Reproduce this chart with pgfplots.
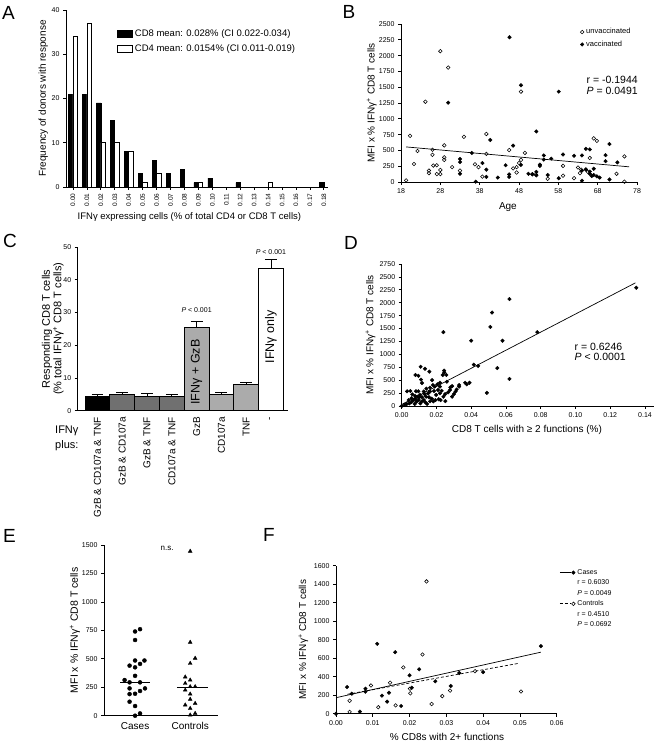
\documentclass[border=0pt]{standalone}
\usepackage{fontspec}
\setmainfont{Liberation Sans}
\usepackage{pgfplots}
\pgfplotsset{compat=1.18}

\pgfplotsset{
  gp/.style={
    scale only axis, clip=false, anchor=south west,
    axis lines*=left,
    axis line style={-, line width=0.8pt, black},
    x axis line style={-}, y axis line style={-},
    tick align=outside, major tick length=3pt,
    tick style={line width=0.7pt, black},
    tick label style={font=\fontsize{7}{8}\selectfont},
    label style={font=\fontsize{10}{11}\selectfont},
    /pgf/number format/assume math mode=true,
    /pgf/number format/1000 sep={},
  },
  ylab/.style={ylabel style={at={(axis description cs:#1,0.5)}, anchor=center}},
  twodec/.style={scaled x ticks=false,
    x tick label style={/pgf/number format/fixed, /pgf/number format/fixed zerofill, /pgf/number format/precision=2}},
}

\begin{document}
\begin{tikzpicture}
\path[use as bounding box] (0pt,0pt) rectangle (661pt,744pt);

% panel letters
\node[font=\fontsize{19}{19}\selectfont] at (8.5pt,731.5pt) {A};
\node[font=\fontsize{19}{19}\selectfont] at (349pt,732.5pt) {B};
\node[font=\fontsize{19}{19}\selectfont] at (10pt,503.5pt) {C};
\node[font=\fontsize{19}{19}\selectfont] at (351pt,501.5pt) {D};
\node[font=\fontsize{19}{19}\selectfont] at (9.5pt,208.5pt) {E};
\node[font=\fontsize{19}{19}\selectfont] at (269pt,209pt) {F};

% ---------- A: histogram
\begin{axis}[gp, at={(66pt,557pt)}, width=262pt, height=177pt,
  xmin=-0.5, xmax=18.3, ymin=0, ymax=40,
  ybar=0pt, bar width=4.4pt,
  xtick={0,...,18},
  xticklabels={0.00,0.01,0.02,0.03,0.04,0.05,0.06,0.07,0.08,0.09,0.10,0.11,0.12,0.13,0.14,0.15,0.16,0.17,0.18},
  x tick label style={rotate=90, anchor=east, font=\fontsize{6.5}{7}\selectfont},
  ytick={0,10,20,30,40},
  ylabel={Frequency of donors with response},
  xlabel={IFNγ expressing cells (\% of total CD4 or CD8 T cells)},
  ylab=-0.087,
  xlabel style={at={(axis description cs:0.471,-0.169)}, anchor=center, font=\fontsize{9.5}{11}\selectfont},
  legend style={at={(axis description cs:0.195,0.9)}, anchor=north west, draw=none, fill=none,
    font=\fontsize{9.5}{11}\selectfont, row sep=2pt, inner sep=0pt},
  legend cell align=left,
]
\addplot[fill=black, draw=black, line width=0.6pt,
  legend image code/.code={\draw[fill=black,draw=black] (0pt,-3.5pt) rectangle (15pt,3.5pt);}]
  coordinates {(0,21)(1,21)(2,19)(3,15)(4,8)(5,3)(6,6)(7,3)(8,4)(9,1)(10,2)(12,1)(18,1)};
\addlegendentry{CD8 mean: 0.028\% (CI 0.022-0.034)}
\addplot[fill=white, draw=black, line width=0.6pt,
  legend image code/.code={\draw[fill=white,draw=black,line width=0.6pt] (0pt,-3.5pt) rectangle (15pt,3.5pt);}]
  coordinates {(0,34)(1,37)(2,10)(3,10)(4,8)(5,1)(6,3)(9,1)(14,1)};
\addlegendentry{CD4 mean: 0.0154\% (CI 0.011-0.019)}
\end{axis}

% ---------- B: age scatter
\begin{axis}[gp, at={(401pt,562pt)}, width=236pt, height=158pt,
  xmin=18, xmax=78, ymin=0, ymax=2500,
  xtick={18,28,...,78}, ytick={0,250,...,2500},
  ylabel={MFI x \% IFNγ\textsuperscript{+} CD8 T cells}, xlabel={Age},
  ylab=-0.124,
  xlabel style={at={(axis description cs:0.453,-0.158)}, anchor=center},
  legend style={at={(axis description cs:0.758,0.985)}, anchor=north west, draw=none, fill=none,
    font=\fontsize{7.5}{8.5}\selectfont, row sep=1.5pt, inner sep=0pt},
  legend cell align=left,
]
\addplot[only marks, mark=o, mark size=1.8pt, mark options={line width=0.55pt},
  legend image code/.code={\draw[line width=0.55pt] (2pt,0pt) circle (1.8pt);}]
  coordinates {(19.3,25)(20.3,730)(21.3,285)(22.2,490)(24.2,1270)(26,510)(26,430)(25.1,180)(25.1,140)
  (26.2,260)(27.1,265)(27.1,125)(28,125)(28,190)(28,2070)(29,580)(29,390)(29,350)(30,1810)(31,235)
  (33,180)(34,715)(36.8,280)(37.7,235)(38.7,85)(39.7,760)(39.7,445)(45.5,505)(46.5,215)(47.4,235)
  (47.4,150)(48,300)(48.5,350)(48.5,1430)(49.5,460)(51.4,120)(52.3,120)(55.3,50)(59.2,255)(59.2,100)
  (62,60)(63,230)(63.8,195)(65,195)(66,380)(67,690)(67.8,650)(72.8,130)(74.8,405)(74.8,5)(65.5,160)(63.5,140)};
\addlegendentry{unvaccinated}
\addplot[only marks, mark=*, mark size=1.8pt,
  legend image code/.code={\fill (2pt,0pt) circle (1.8pt);}]
  coordinates {(45.6,2290)(48.5,1530)(58.1,1430)(30,1255)(52.4,800)(33,365)(33,315)(33,130)(36,460)
  (37,5)(38.7,300)(39.7,195)(39.7,80)(40.7,665)(42.6,70)(44.6,265)(45.5,120)(45.5,80)(46.5,575)
  (48.5,270)(50.4,130)(51.4,125)(52.4,160)(52.4,105)(53.3,255)(53.3,275)(54.3,420)(54.3,355)
  (55.3,110)(56.2,370)(58.1,60)(59.2,435)(62,415)(64,420)(64,20)(65,525)(66,515)(65,200)(66,130)
  (66,165)(67,110)(67.8,90)(68.5,70)(67,210)(70,425)(70,330)(71,600)(71,40)(73,310)(66.5,95)(64,180)};
\addlegendentry{vaccinated}
\addplot[line width=0.7pt, forget plot] coordinates {(19.3,555)(76,240)};
\node[anchor=west, align=left, font=\fontsize{10.5}{11}\selectfont] at (axis cs:64.3,1530)
  {r = -0.1944\\\textit{P} = 0.0491};
\end{axis}

% ---------- C: function bars
\begin{axis}[gp, at={(77.7pt,333.3pt)}, width=210.3pt, height=163.7pt,
  xmin=0.2, xmax=8.69, ymin=0, ymax=50,
  ytick={0,10,...,50}, xtick={1,...,8},
  xticklabels={GzB \& CD107a \& TNF, GzB \& CD107a, GzB \& TNF, CD107a \& TNF, GzB, CD107a, TNF, -},
  x tick label style={rotate=90, anchor=east, font=\fontsize{10}{11}\selectfont},
  major x tick style={draw=none},
  ylabel={Responding CD8 T cells\\(\% total IFNγ\textsuperscript{+} CD8 T cells)},
  ylabel style={at={(axis description cs:-0.118,0.5)}, anchor=center, align=center, font=\fontsize{11}{11.5}\selectfont},
]
\pgfplotsset{cbar/.style={ybar, bar width=24.8pt, bar shift=0pt, draw=black, line width=0.9pt}}
% error bars (upper whisker and cap)
\addplot[line width=0.8pt] coordinates {(1,4.5)(1,5.1)};
\addplot[line width=0.8pt] coordinates {(0.76,5.1)(1.24,5.1)};
\addplot[line width=0.8pt] coordinates {(2,4.9)(2,5.5)};
\addplot[line width=0.8pt] coordinates {(1.76,5.5)(2.24,5.5)};
\addplot[line width=0.8pt] coordinates {(3,4.5)(3,5.2)};
\addplot[line width=0.8pt] coordinates {(2.76,5.2)(3.24,5.2)};
\addplot[line width=0.8pt] coordinates {(4,4.5)(4,5.1)};
\addplot[line width=0.8pt] coordinates {(3.76,5.1)(4.24,5.1)};
\addplot[line width=0.8pt] coordinates {(5,25.3)(5,27.4)};
\addplot[line width=0.8pt] coordinates {(4.76,27.4)(5.24,27.4)};
\addplot[line width=0.8pt] coordinates {(6,4.9)(6,5.7)};
\addplot[line width=0.8pt] coordinates {(5.76,5.7)(6.24,5.7)};
\addplot[line width=0.8pt] coordinates {(7,8.0)(7,8.7)};
\addplot[line width=0.8pt] coordinates {(6.76,8.7)(7.24,8.7)};
\addplot[line width=0.8pt] coordinates {(8,43.6)(8,46.2)};
\addplot[line width=0.8pt] coordinates {(7.76,46.2)(8.24,46.2)};
% bars
\addplot[fill=black, cbar] coordinates {(1,4.5)};
\addplot[fill=black!56, cbar] coordinates {(2,4.9)};
\addplot[fill=black!56, cbar] coordinates {(3,4.5)};
\addplot[fill=black!56, cbar] coordinates {(4,4.5)};
\addplot[fill=black!33, cbar] coordinates {(5,25.3)};
\addplot[fill=black!33, cbar] coordinates {(6,4.9)};
\addplot[fill=black!33, cbar] coordinates {(7,8.0)};
\addplot[fill=white, cbar] coordinates {(8,43.6)};
\node[rotate=90, font=\fontsize{12.5}{13}\selectfont] at (axis cs:5,11.8) {IFNγ + GzB};
\node[rotate=90, font=\fontsize{12.5}{13}\selectfont] at (axis cs:8,22.5) {IFNγ only};
\node[font=\fontsize{7}{8}\selectfont] at (axis cs:5,30.6) {\textit{P} < 0.001};
\node[font=\fontsize{7}{8}\selectfont] at (axis cs:8,48.3) {\textit{P} < 0.001};
\end{axis}
\node[anchor=north west, align=left, inner sep=0pt, font=\fontsize{11}{15}\selectfont] at (55pt,318pt) {IFNγ\\plus:};

% ---------- D: polyfunctional vs MFI
\begin{axis}[gp, twodec, at={(401.7pt,338pt)}, width=252pt, height=142pt,
  xmin=0, xmax=0.145, ymin=0, ymax=2750,
  xtick={0,0.02,...,0.14}, ytick={0,250,...,2750},
  ylabel={MFI x \% IFNγ\textsuperscript{+} CD8 T cells},
  xlabel={CD8 T cells with ≥ 2 functions (\%)},
  ylab=-0.124,
  xlabel style={at={(axis description cs:0.497,-0.169)}, anchor=center},
]
\addplot[only marks, mark=*, mark size=1.8pt] coordinates {
  (0.135,2290)(0.062,2070)(0.052,1810)(0.051,1530)(0.024,1430)(0.040,1265)(0.058,1265)(0.078,1430)
  (0.0415,800)(0.044,775)(0.055,735)(0.062,525)(0.049,255)
  (0.0109,760)(0.0134,720)(0.0159,665)(0.0079,600)(0.0096,585)(0.0111,510)(0.0117,445)(0.0175,500)
  (0.0245,650)(0.0236,600)(0.0244,685)(0.0257,600)(0.026,470)(0.018,405)(0.019,375)(0.0205,420)
  (0.022,450)(0.022,375)(0.0163,355)(0.0142,335)(0.0127,280)(0.0096,285)(0.0082,285)(0.005,290)
  (0.0031,285)(0.0061,225)(0.0077,195)(0.009,180)(0.0105,215)(0.014,180)(0.0157,170)(0.0173,140)
  (0.0163,90)(0.0182,90)(0.0194,115)(0.0213,130)(0.0224,115)(0.024,180)(0.025,230)(0.0267,265)
  (0.0251,95)(0.0278,310)(0.028,360)(0.029,385)(0.031,280)(0.030,230)(0.029,180)(0.0316,320)
  (0.033,405)(0.033,375)(0.0365,450)(0.0374,420)(0.039,450)(0.004,115)(0.0044,50)(0.0056,75)
  (0.0067,110)(0.0075,40)(0.0086,85)(0.0098,115)(0.0107,50)(0.0117,90)(0.0127,115)(0.0136,70)
  (0.0146,40)(0.0079,140)(0.0029,40)(0.0017,20)(0,0)(0.0056,150)(0.0102,170)(0.0117,170)
  (0.0152,245)(0.0163,280)(0.0186,290)(0.0209,310)(0.0198,215)(0.022,245)(0.023,295)(0.0132,230)};
\addplot[line width=0.7pt] coordinates {(0,30)(0.1345,2385)};
\node[anchor=west, align=left, font=\fontsize{10.5}{10.5}\selectfont] at (axis cs:0.0975,1050)
  {r = 0.6246\\\textit{P} < 0.0001};
\end{axis}

% ---------- E: cases vs controls
\begin{axis}[gp, at={(104pt,28.3pt)}, width=114.3pt, height=170.7pt,
  xmin=0.436, xmax=2.51, ymin=0, ymax=1500,
  xtick={1,2}, xticklabels={Cases,Controls},
  x tick label style={font=\fontsize{10}{11}\selectfont},
  major x tick style={draw=none},
  ytick={0,250,...,1500},
  ylabel={MFI x \% IFNγ\textsuperscript{+} CD8 T cells},
  ylab=-0.254,
  ylabel style={font=\fontsize{10.5}{11}\selectfont},
]
\addplot[only marks, mark=*, mark size=2pt] coordinates {
  (1.09,760)(1,740)(1,665)(1,485)(1.17,485)(0.9,440)(1,425)(1.09,455)(1,350)(0.81,313)(0.9,293)
  (1.09,293)(0.9,240)(1.18,240)(1,193)(0.9,190)(1.09,217)(0.9,123)(1,85)(1,0)(1.09,20)};
\addplot[only marks, mark=triangle*, mark size=2.2pt] coordinates {
  (2,1445)(2,645)(2.09,505)(2,460)(1.91,340)(2,313)(1.91,284)(2.09,255)(2,255)(1.91,225)
  (2,190)(2,144)(2.09,108)(1.91,94)(2,64)(2,6)(2.09,20)};
\addplot[line width=0.7pt] coordinates {(0.73,290)(1.27,290)};
\addplot[line width=0.7pt] coordinates {(1.76,250)(2.33,250)};
\node[font=\fontsize{8}{9}\selectfont] at (axis cs:1.58,1470) {n.s.};
\end{axis}

% ---------- F: cases/controls regression
\begin{axis}[gp, twodec, at={(336pt,30.3pt)}, width=220.7pt, height=148pt,
  xmin=0, xmax=0.06, ymin=0, ymax=1600,
  xtick={0,0.01,...,0.06}, ytick={0,200,...,1600},
  ylabel={MFI x \% IFNγ\textsuperscript{+} CD8 T cells},
  xlabel={\% CD8s with 2+ functions},
  ylab=-0.148,
  xlabel style={at={(axis description cs:0.503,-0.157)}, anchor=center},
  legend style={at={(axis description cs:1.012,0.99)}, anchor=north west, draw=none, fill=none,
    font=\fontsize{7}{8}\selectfont, row sep=0pt, inner sep=0pt},
  legend cell align=left,
]
\addplot[only marks, mark=*, mark size=1.8pt, forget plot] coordinates {
  (0,0)(0.003,288)(0.0043,216)(0.0065,22)(0.008,270)(0.008,238)(0.0112,755)(0.0125,195)(0.0139,130)
  (0.0144,227)(0.0161,665)(0.0177,83)(0.020,415)(0.0206,280)(0.0226,480)(0.027,350)(0.0312,300)
  (0.0335,440)(0.040,450)(0.0557,730)};
\addplot[only marks, mark=o, mark size=1.8pt, mark options={line width=0.55pt}, forget plot] coordinates {
  (0.0037,140)(0.0037,20)(0.0095,305)(0.0115,70)(0.0147,335)(0.0162,90)(0.0183,500)(0.0201,270)
  (0.0202,220)(0.0235,640)(0.0246,1430)(0.026,105)(0.0289,190)(0.031,250)(0.0378,460)(0.0503,240)};
\addplot[line width=0.7pt, forget plot] coordinates {(0,173)(0.0557,665)};
\addplot[line width=0.7pt, dash pattern=on 3pt off 2pt, forget plot] coordinates {(0.0031,210)(0.0496,544)};
\addlegendimage{legend image code/.code={\draw[line width=0.7pt] (0pt,0pt)--(11pt,0pt); \fill (13.5pt,0pt) circle (1.8pt);}}
\addlegendentry{Cases}
\addlegendimage{empty legend}
\addlegendentry{r = 0.6030}
\addlegendimage{empty legend}
\addlegendentry{\textit{P} = 0.0049\rule[-6pt]{0pt}{0pt}}
\addlegendimage{legend image code/.code={\draw[line width=0.7pt, dash pattern=on 3pt off 2pt] (0pt,0pt)--(11pt,0pt); \draw[line width=0.55pt] (13.5pt,0pt) circle (1.8pt);}}
\addlegendentry{Controls}
\addlegendimage{empty legend}
\addlegendentry{r = 0.4510}
\addlegendimage{empty legend}
\addlegendentry{\textit{P} = 0.0692}
\end{axis}

\end{tikzpicture}
\end{document}
